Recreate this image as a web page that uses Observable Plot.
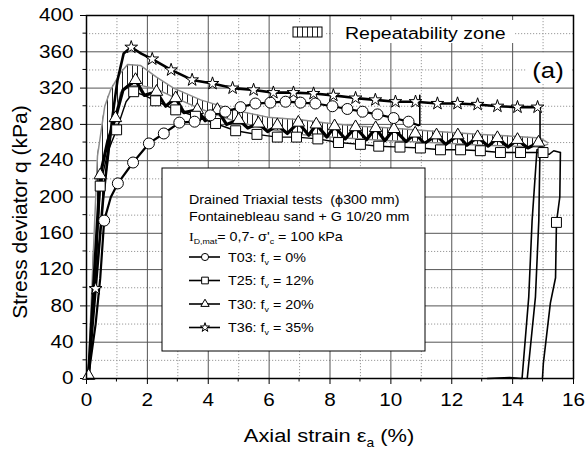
<!DOCTYPE html>
<html><head><meta charset="utf-8">
<script src="https://cdn.jsdelivr.net/npm/d3@7"></script>
<script src="https://cdn.jsdelivr.net/npm/@observablehq/plot@0.6"></script>
<style>
body{margin:0;background:#fff;}
#chart{width:586px;height:454px;}
</style></head><body><div id="chart"></div>
<script>
// ---- tick values ----
const xTicks = [0, 2, 4, 6, 8, 10, 12, 14, 16];
const xMinor = [1, 3, 5, 7, 9, 11, 13, 15];
const yTicks = [0, 40, 80, 120, 160, 200, 240, 280, 320, 360, 400];
const yMinor = [20, 60, 100, 140, 180, 220, 260, 300, 340, 380];

// ---- series: [axial strain %, q kPa, marker flag] ----
const t03 = [[0.05,0],[0.3,60],[0.45,110],[0.58,174,1],[0.8,200],[1.03,215,1],[1.53,238,1],[2.05,259,1],[2.54,270,1],[3.05,282,1],[3.55,283,1],[4.07,290,1],[4.56,294,1],[5.06,299,1],[5.55,303,1],[6.04,304,1],[6.54,305,1],[7.03,304,1],[7.52,303,1],[8.08,300,1],[8.57,297,1],[9.07,294,1],[9.56,291,1],[10.09,287,1],[10.58,283,1],[10.9,279]];
const t03End = [[10.9,279],[10.95,279],[10.95,312]];
const t25 = [[0.05,0],[0.3,120],[0.45,212,1],[0.7,250],[0.99,274,1],[1.3,305],[1.55,316,1],[1.9,312],[2.27,306,1],[2.93,296,1],[3.58,289,1],[4.24,281,1],[4.9,273,1],[5.6,269,1],[6.27,266,1],[6.9,266,1],[7.6,264,1],[8.28,260,1],[9.0,258,1],[9.6,256,1],[10.3,255,1],[10.97,254,1],[11.63,252,1],[12.29,252,1],[12.94,251,1],[13.6,249,1],[14.26,249,1],[15.0,249,1],[15.2,247],[15.35,251],[15.57,249]];
const t25Unload = [[15.57,249],[15.55,200],[15.44,172,1],[15.41,111],[15.24,83],[15.01,17],[14.98,0]];
const t30 = [[0.07,3,1],[0.25,110],[0.45,224,1],[0.7,262],[0.95,287,1],[1.2,318],[1.61,329,1],[1.9,312],[2.3,316,1],[2.6,300],[2.93,309,1],[3.2,293],[3.64,296,1],[3.9,284],[4.3,296,1],[4.6,280],[5.0,285,1],[5.3,276],[5.65,281,1],[5.95,272],[6.27,279,1],[6.6,270],[6.96,282,1],[7.3,268],[7.55,280,1],[7.9,266],[8.15,278,1],[8.5,264],[8.84,277,1],[9.2,263],[9.5,276,1],[9.8,262],[10.1,275,1],[10.5,261],[10.8,270,1],[11.1,259],[11.5,268,1],[11.8,258],[12.2,268,1],[12.5,257],[12.85,266,1],[13.2,256],[13.5,265,1],[13.85,255],[14.16,263,1],[14.5,254],[14.85,260,1],[15.0,253]];
const t30Unload = [[15.0,253],[14.8,252],[14.64,174],[14.53,90],[14.31,0],[13.9,1],[13.17,0]];
const t36 = [[0.05,0],[0.3,99,1],[0.55,200],[0.85,288],[1.02,329],[1.22,358],[1.47,365,1],[1.8,358],[2.16,352,1],[2.78,340,1],[3.47,329,1],[4.14,325,1],[4.8,320,1],[5.49,318,1],[6.14,315,1],[6.8,315,1],[7.46,314,1],[8.11,312,1],[8.84,309,1],[9.49,307,1],[10.15,305,1],[10.81,305,1],[11.53,303,1],[12.19,303,1],[12.85,302,1],[13.5,300,1],[14.16,299,1],[14.82,299,1],[14.9,298]];
const t36Unload = [[14.9,298],[14.9,255],[14.86,174],[14.75,90],[14.48,0]];

// ---- repeatability zone ----
const zoneStrain = [0.05, 0.36, 0.6, 0.79, 1.12, 1.35, 1.77, 2.3, 2.86, 3.75, 4.83, 5.95, 7.03, 8, 9, 10, 10.75, 12, 13, 14, 14.9, 15.15];
const zoneUpper  = [0, 245, 300, 318, 337, 346, 345, 332, 320, 307, 296, 288, 285, 281, 278, 276, 274, 271, 269, 267, 265, 260];
const zoneLower  = [0, 130, 215, 265, 315, 323, 323, 319, 310, 297, 284, 275, 269, 266, 264, 262, 261, 259, 257, 256, 255, 258];

// ---- legend texts ----
const legendTitle = ["Drained Triaxial tests  (\u03d5300 mm)", "Fontainebleau sand + G 10/20 mm"];
const seriesIds = ["T03", "T25", "T30", "T36"];
const seriesFv = ["0%", "12%", "20%", "35%"];
const seriesSymbols = ["circle", "square", "triangle", "star"];

const toRows = a => a.map(([x, q, m]) => ({x, q, m: !!m}));
const series = [t03, t25, t30, t36].map(toRows);
const ends = [t03End, t25Unload, t30Unload, t36Unload].map(toRows);
const zone = zoneStrain.map((x, i) => ({x, lo: zoneLower[i], hi: zoneUpper[i]}));
const lineWidths = [2.2, 1.4, 3.2, 2.6];
const markerR = [5.5, 5.6, 4.6, 4.0];

const marks = [
  Plot.ruleX(xMinor, {stroke: "#9a9a9a", strokeDasharray: "1.2,1.8", strokeWidth: 1}),
  Plot.ruleY(yMinor, {stroke: "#9a9a9a", strokeDasharray: "1.2,1.8", strokeWidth: 1}),
  Plot.ruleX(xTicks, {stroke: "#555", strokeWidth: 1}),
  Plot.ruleY(yTicks, {stroke: "#555", strokeWidth: 1}),
  Plot.areaY(zone, {x: "x", y1: "lo", y2: "hi", fill: "url(#hatch)"}),
  Plot.line(zone, {x: "x", y: "hi", stroke: "#8c8c8c", strokeWidth: 1.5}),
  Plot.line(zone, {x: "x", y: "lo", stroke: "#8c8c8c", strokeWidth: 1.5})
];
[2, 1, 0, 3].forEach(i => {
  marks.push(Plot.line(series[i], {x: "x", y: "q", stroke: "black", strokeWidth: lineWidths[i], strokeLinejoin: "round"}));
  marks.push(Plot.line(ends[i], {x: "x", y: "q", stroke: "black", strokeWidth: 1.6, strokeLinejoin: "round"}));
});
[2, 1, 0, 3].forEach(i => marks.push(Plot.dot(series[i].concat(ends[i]).filter(d => d.m), {x: "x", y: "q", symbol: seriesSymbols[i], r: markerR[i], fill: "white", stroke: "black", strokeWidth: 1})));
marks.push(Plot.frame({stroke: "black", strokeWidth: 1.5}));

const fig = Plot.plot({
  width: 586, height: 454,
  marginLeft: 86, marginRight: 13, marginTop: 15, marginBottom: 76,
  x: {domain: [0, 16], ticks: xTicks, tickSize: 6, tickPadding: 9, label: null},
  y: {domain: [0, 400], ticks: yTicks, tickSize: 6, tickPadding: 7, label: null},
  style: {fontFamily: "'Liberation Sans', Arial, sans-serif", fontSize: "18px", color: "black", background: "white"},
  marks
});
document.getElementById("chart").append(fig);
const svgEl = fig.tagName.toLowerCase() === "svg" ? fig : fig.querySelector("svg");
const svg = d3.select(svgEl);

function stretch(t, s) {
  const x = parseFloat(t.getAttribute("x")) || 0, y = parseFloat(t.getAttribute("y")) || 0;
  const tr = t.getAttribute("transform") || "";
  t.setAttribute("transform", `${tr} translate(${x},${y}) scale(${s},1) translate(${-x},${-y})`);
}
svg.selectAll("text").each(function() { stretch(this, 1.15); });

// hatch pattern
const defs = svg.insert("defs", ":first-child");
const pat = defs.append("pattern").attr("id", "hatch").attr("patternUnits", "userSpaceOnUse").attr("width", 5).attr("height", 10);
pat.append("rect").attr("width", 5).attr("height", 10).attr("fill", "white");
pat.append("line").attr("x1", 2.5).attr("x2", 2.5).attr("y1", 0).attr("y2", 10).attr("stroke", "#222").attr("stroke-width", 1);

let sx, sy;
try { sx = fig.scale("x").apply; sy = fig.scale("y").apply; } catch (e) {}
if (!sx) { sx = d3.scaleLinear([0, 16], [86, 573]); sy = d3.scaleLinear([0, 400], [378, 15]); }

// minor ticks
const g = svg.append("g").attr("stroke", "black").attr("stroke-width", 1);
xMinor.forEach(v => g.append("line").attr("x1", sx(v)).attr("x2", sx(v)).attr("y1", 378).attr("y2", 381.5));
yMinor.forEach(v => g.append("line").attr("y1", sy(v)).attr("y2", sy(v)).attr("x1", 86).attr("x2", 82.5));

const ff = "'Liberation Sans', Arial, sans-serif";
const ann = svg.append("g").attr("font-family", ff).attr("fill", "black").attr("text-anchor", "start");

// axis titles
const xt = ann.append("text").attr("x", 329).attr("y", 442).attr("text-anchor", "middle").attr("font-size", 19);
xt.append("tspan").text("Axial strain \u03b5");
xt.append("tspan").attr("font-size", 12).attr("dy", 5).text("a");
xt.append("tspan").attr("dy", -5).text(" (%)");
stretch(xt.node(), 1.15);
ann.append("text").attr("transform", "translate(27,212) rotate(-90)").attr("text-anchor", "middle").attr("font-size", 21).text("Stress deviator q (kPa)");

// repeatability legend
ann.append("rect").attr("x", 290).attr("y", 24).attr("width", 35).attr("height", 17).attr("fill", "white");
ann.append("rect").attr("x", 333).attr("y", 20).attr("width", 182).attr("height", 23).attr("fill", "white");
ann.append("rect").attr("x", 293).attr("y", 27).attr("width", 29).attr("height", 10).attr("fill", "url(#hatch)").attr("stroke", "black").attr("stroke-width", 1);
const rz = ann.append("text").attr("x", 345).attr("y", 39).attr("font-size", 17).text("Repeatability zone");
stretch(rz.node(), 1.15);

// (a) label
ann.append("rect").attr("x", 526).attr("y", 53).attr("width", 45).attr("height", 31).attr("fill", "white");
const pa = ann.append("text").attr("x", 548).attr("y", 78).attr("text-anchor", "middle").attr("font-size", 23).text("(a)");
stretch(pa.node(), 1.12);

// legend box
ann.append("rect").attr("x", 162).attr("y", 168).attr("width", 263).attr("height", 183).attr("fill", "white").attr("stroke", "black").attr("stroke-width", 1);
const lt = ann.append("g").attr("font-size", 13).attr("text-anchor", "start").style("white-space", "pre");
legendTitle.forEach((s, i) => { const t = lt.append("text").attr("x", 189).attr("y", 204 + i * 17).text(s); stretch(t.node(), 1.1); });
const l3 = lt.append("text").attr("x", 189).attr("y", 241);
l3.append("tspan").attr("font-family", "'Liberation Serif', serif").text("I");
l3.append("tspan").attr("font-size", 8).attr("dy", 3).text("D,mat");
l3.append("tspan").attr("dy", -3).text("= 0,7- \u03c3'");
l3.append("tspan").attr("font-size", 8).attr("dy", 3).text("c");
l3.append("tspan").attr("dy", -3).text(" = 100 kPa");
stretch(l3.node(), 1.1);
const symTypes = {circle: d3.symbolCircle, square: d3.symbolSquare, triangle: d3.symbolTriangle, star: d3.symbolStar};
const symSizes = {circle: 40, square: 45, triangle: 30, star: 26};
seriesIds.forEach((id, i) => {
  const cy = 257 + i * 23.5;
  lt.append("line").attr("x1", 189).attr("x2", 220).attr("y1", cy).attr("y2", cy).attr("stroke", "black").attr("stroke-width", 1.6);
  lt.append("path").attr("transform", `translate(205,${cy})`).attr("d", d3.symbol(symTypes[seriesSymbols[i]], symSizes[seriesSymbols[i]])()).attr("fill", "white").attr("stroke", "black").attr("stroke-width", 1);
  const t = lt.append("text").attr("x", 228).attr("y", cy + 5);
  t.append("tspan").text(id + ": f");
  t.append("tspan").attr("font-size", 8).attr("dy", 3).text("v");
  t.append("tspan").attr("dy", -3).text(" = " + seriesFv[i]);
  stretch(t.node(), 1.1);
});
</script></body></html>
